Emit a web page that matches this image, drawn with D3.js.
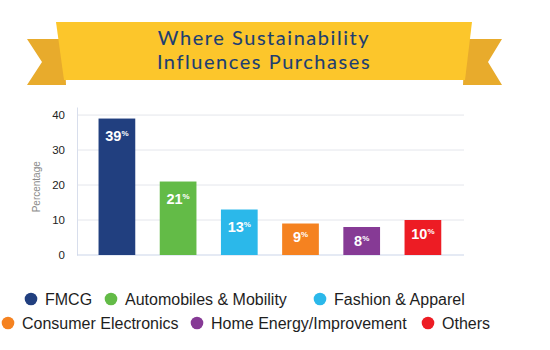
<!DOCTYPE html>
<html>
<head>
<meta charset="utf-8">
<script src="https://cdn.jsdelivr.net/npm/d3@7/dist/d3.min.js"></script>
<style>
  html, body { margin: 0; padding: 0; background: #fff; }
  svg { display: block; }
</style>
</head>
<body>
<svg id="chart" width="550" height="350"></svg>
<script>
// Share of consumers whose purchases are influenced by sustainability, by category
const categories = ["FMCG", "Automobiles & Mobility", "Fashion & Apparel",
                    "Consumer Electronics", "Home Energy/Improvement", "Others"];
const values = [39, 21, 13, 9, 8, 10];
const colors = ["#213F7F", "#63BB47", "#2BB8EA", "#F58220", "#863A95", "#ED1C24"];
const yTicks = [0, 10, 20, 30, 40];
const titleLines = ["Where Sustainability", "Influences Purchases"];

const svg = d3.select("#chart");

// ---- Ribbon banner ----
const banner = svg.append("g");
// left and right tails
banner.append("path")
  .attr("d", "M27,39 L64,39 L66,85 L27,85 L42,62 Z")
  .attr("fill", "#E8AB2C");
banner.append("path")
  .attr("d", "M502,39 L465,39 L463,85 L502,85 L488,62 Z")
  .attr("fill", "#E8AB2C");
// main band
banner.append("path")
  .attr("d", "M56,22 L472,22 L465,80 L64,80 Z")
  .attr("fill", "#FCC62B");

// two-line title
banner.selectAll("text.title")
  .data(titleLines)
  .join("text")
  .attr("class", "title")
  .attr("x", 264)
  .attr("y", (d, i) => 45 + i * 24)
  .attr("text-anchor", "middle")
  .attr("font-family", "Lato, sans-serif")
  .attr("font-size", 20)
  .attr("letter-spacing", 1.55)
  .attr("stroke", "#1C3E72")
  .attr("stroke-width", 0.1)
  .attr("fill", "#1C3E72")
  .text(d => d);

// ---- Chart ----
const x = d3.scaleBand()
  .domain(categories)
  .range([86.3, 453.5])
  .paddingInner(0.4)
  .paddingOuter(0.2);

const y = d3.scaleLinear()
  .domain([0, 42.3])
  .range([255, 107]);

// gridlines
svg.append("g")
  .selectAll("line")
  .data(yTicks.filter(t => t > 0))
  .join("line")
  .attr("x1", 77).attr("x2", 464)
  .attr("y1", d => y(d)).attr("y2", d => y(d))
  .attr("stroke", "#E4E6EC")
  .attr("stroke-width", 1);

// y axis
const yAxis = svg.append("g")
  .attr("transform", "translate(77,0)")
  .call(d3.axisLeft(y).tickValues(yTicks).tickSize(0).tickPadding(12));
yAxis.select(".domain").attr("stroke", "#D8DEEC");
yAxis.selectAll("text")
  .attr("font-family", "Arial, 'Liberation Sans', sans-serif")
  .attr("font-size", 11.5)
  .attr("fill", "#222");

// baseline
svg.append("line")
  .attr("x1", 77).attr("x2", 464)
  .attr("y1", y(0)).attr("y2", y(0))
  .attr("stroke", "#CCD5EA")
  .attr("stroke-width", 1.2);

// axis title
svg.append("text")
  .attr("transform", `translate(40,${y(19.5)}) rotate(-90)`)
  .attr("text-anchor", "middle")
  .attr("font-family", "Arial, 'Liberation Sans', sans-serif")
  .attr("font-size", 10)
  .attr("fill", "#8A8A8A")
  .text("Percentage");

// bars
svg.append("g")
  .selectAll("rect")
  .data(values)
  .join("rect")
  .attr("x", (d, i) => x(categories[i]))
  .attr("y", d => y(d))
  .attr("width", x.bandwidth())
  .attr("height", d => y(0) - y(d))
  .attr("fill", (d, i) => colors[i]);

// value labels inside bars
const labels = svg.append("g")
  .selectAll("text")
  .data(values)
  .join("text")
  .attr("x", (d, i) => x(categories[i]) + x.bandwidth() / 2)
  .attr("y", d => y(d) + (d >= 12 ? 22 : 18.5))
  .attr("text-anchor", "middle")
  .attr("font-family", "Arial, 'Liberation Sans', sans-serif")
  .attr("font-weight", "bold")
  .attr("font-size", 14.5)
  .attr("fill", "#fff");
labels.append("tspan").text(d => d);
labels.append("tspan")
  .attr("font-size", 8)
  .attr("dy", -5)
  .text("%");

// ---- Legend ----
const legendPos = [
  { cx: 31, y: 299 }, { cx: 111, y: 299 }, { cx: 320, y: 299 },
  { cx: 8, y: 323 }, { cx: 197, y: 323 }, { cx: 428, y: 323 }
];
const legend = svg.append("g")
  .selectAll("g")
  .data(categories)
  .join("g")
  .attr("transform", (d, i) => `translate(${legendPos[i].cx},${legendPos[i].y})`);
legend.append("circle")
  .attr("r", 6.3)
  .attr("fill", (d, i) => colors[i]);
legend.append("text")
  .attr("x", 14)
  .attr("dy", "0.36em")
  .attr("font-family", "Arial, 'Liberation Sans', sans-serif")
  .attr("font-size", 16)
  .attr("fill", "#1E1E1E")
  .text(d => d);
</script>
</body>
</html>
